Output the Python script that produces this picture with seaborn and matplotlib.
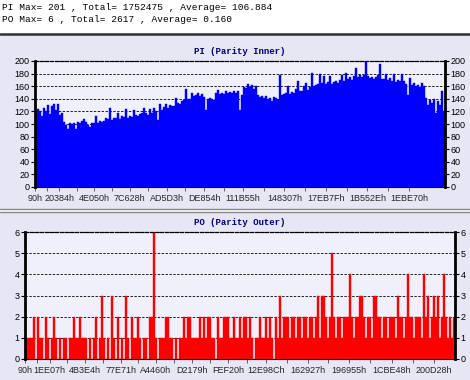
import numpy as np
import matplotlib
matplotlib.use('Agg')
from matplotlib import pyplot as plt
from matplotlib.patches import Rectangle
from matplotlib.lines import Line2D
import seaborn as sns

sns.set_style('white')
plt.rcParams['font.family'] = ['Liberation Sans', 'DejaVu Sans']

# PI per sample block
pi_vals = [118, 124, 121, 113, 126, 120, 130, 116, 128, 131,
           122, 131, 114, 117, 103, 99, 92, 101, 100, 102,
           92, 103, 101, 104, 108, 103, 99, 95, 101, 102,
           113, 101, 104, 103, 104, 110, 108, 126, 107, 109,
           110, 117, 108, 112, 111, 124, 110, 112, 111, 122,
           114, 113, 116, 118, 126, 118, 115, 124, 117, 125,
           120, 106, 131, 122, 127, 131, 126, 130, 129, 128,
           142, 133, 131, 136, 138, 155, 139, 140, 150, 144,
           146, 149, 145, 147, 143, 122, 139, 141, 140, 138,
           149, 154, 147, 150, 148, 152, 149, 151, 150, 153,
           149, 152, 122, 146, 158, 157, 164, 158, 162, 156,
           160, 146, 143, 145, 141, 144, 139, 142, 136, 143,
           141, 138, 178, 146, 147, 150, 160, 148, 151, 149,
           155, 168, 153, 152, 160, 165, 154, 158, 181, 160,
           162, 163, 180, 165, 176, 163, 166, 176, 164, 167,
           168, 165, 170, 178, 169, 181, 171, 174, 170, 176,
           189, 175, 178, 174, 177, 201, 176, 173, 175, 172,
           174, 178, 195, 171, 172, 180, 170, 173, 168, 180,
           167, 170, 169, 180, 168, 164, 146, 173, 162, 165,
           160, 162, 158, 165, 160, 141, 130, 138, 133, 140,
           117, 136, 130, 152, 120]

# PO per sample block
po_vals = [1, 1, 1, 1, 2, 0, 2, 1, 1, 0, 2, 1, 0, 1, 2, 1, 0, 1, 0, 1,
           1, 0, 1, 1, 2, 1, 1, 2, 1, 1, 1, 0, 1, 0, 1, 2, 0, 1, 3, 1,
           0, 1, 0, 3, 1, 0, 2, 0, 1, 0, 3, 1, 0, 2, 1, 1, 2, 1, 0, 1,
           1, 0, 2, 2, 6, 1, 0, 1, 1, 1, 2, 2, 1, 1, 0, 1, 0, 1, 1, 2,
           1, 2, 2, 1, 1, 1, 1, 2, 1, 2, 1, 2, 2, 1, 1, 0, 2, 1, 1, 2,
           2, 2, 1, 1, 2, 1, 1, 2, 1, 2, 2, 1, 2, 1, 0, 1, 1, 2, 1, 1,
           2, 1, 2, 1, 0, 2, 1, 3, 1, 2, 2, 2, 1, 2, 2, 1, 2, 2, 1, 2,
           2, 1, 2, 2, 1, 2, 3, 1, 3, 3, 2, 1, 2, 5, 2, 1, 2, 2, 1, 2,
           2, 2, 4, 2, 1, 2, 2, 3, 3, 2, 1, 2, 2, 1, 3, 3, 2, 2, 1, 2,
           2, 1, 2, 2, 2, 1, 3, 2, 2, 1, 2, 4, 2, 2, 1, 2, 2, 2, 1, 4,
           2, 3, 1, 2, 3, 2, 3, 1, 2, 4, 2, 1, 2, 1, 2]

pi_xticks = [0x90, 0x20384, 0x4E050, 0x7C628, 0xAD5D3, 0xDE854,
             0x111B55, 0x148307, 0x17EB7F, 0x1B552E, 0x1EBE70]
po_xticks = [0x90, 0x1EE07, 0x4B3E4, 0x77E71, 0xA4460, 0xD2179,
             0xFEF20, 0x12E98C, 0x162927, 0x196955, 0x1CBE48, 0x200D28]
pi_yticks = [0, 20, 40, 60, 80, 100, 120, 140, 160, 180, 200]
po_yticks = [0, 1, 2, 3, 4, 5, 6]

lba_start = 0x90
lba_end = 0x21B4A0

header = ['PI Max= 201 , Total= 1752475 , Average= 106.884',
          'PO Max= 6 , Total= 2617 , Average= 0.160']

panel_bg = '#E6E6F4'
axes_bg = '#F0F0FC'
navy = '#000080'
dash = (0, (2.5, 1.5))

fig = plt.figure(figsize=(4.7, 3.8), dpi=100)
fig.patch.set_facecolor('white')

H = 380.0
W = 470.0
# background panels and separator lines
fig.add_artist(Rectangle((0, 1 - 209 / H), 1, 175 / H, transform=fig.transFigure,
                         facecolor=panel_bg, edgecolor='none', zorder=-10))
fig.add_artist(Rectangle((0, 0), 1, 1 - 212 / H, transform=fig.transFigure,
                         facecolor=panel_bg, edgecolor='none', zorder=-10))
fig.add_artist(Line2D([0, 1], [1 - 34 / H] * 2, transform=fig.transFigure,
                      color='#303030', lw=1.8))
fig.add_artist(Line2D([0, 1], [1 - 209 / H] * 2, transform=fig.transFigure,
                      color='#8A8A8A', lw=1.0))
fig.add_artist(Line2D([0, 1], [1 - 212 / H] * 2, transform=fig.transFigure,
                      color='#8A8A8A', lw=1.0))

for i, line in enumerate(header):
    fig.text(2 / W, 1 - (7 + 13 * i) / H, line, family=['Liberation Mono', 'DejaVu Sans Mono'],
             fontsize=6.8, va='center', ha='left', color='black')


def draw(ax, vals, color, xticks, yticks, title, title_y):
    n = len(vals)
    step = (lba_end - lba_start) / n
    lba = lba_start + step * (np.arange(n) + 0.5)
    sns.barplot(x=lba, y=vals, native_scale=True, width=1, orient='x', color=color,
                saturation=1, errorbar=None, linewidth=0.3, edgecolor=color, ax=ax)
    ax.set_facecolor(axes_bg)
    ax.set_xlim(lba_start, lba_end)
    ax.set_ylim(0, yticks[-1])
    ax.set_xlabel('')
    ax.set_ylabel('')
    ax.set_yticks(yticks)
    ax.set_yticklabels([str(v) for v in yticks])
    ax.set_xticks(xticks)
    ax.set_xticklabels([f'{v:X}h' for v in xticks])
    ax.set_xticks([(a + b) / 2 for a, b in zip(xticks[:-1], xticks[1:])], minor=True)
    ax.yaxis.grid(True, linestyle=dash, color='#202020', lw=0.7)
    ax.set_axisbelow(True)
    ax.tick_params(axis='y', which='both', left=True, right=True, labelleft=True,
                   labelright=True, length=3, width=0.8, pad=1, labelsize=6.5, colors='black')
    ax.tick_params(axis='x', which='both', bottom=True, length=3, width=0.7, pad=2,
                   labelsize=6.5, color='#606060')
    for side in ['left', 'right']:
        ax.spines[side].set_linewidth(2)
        ax.spines[side].set_color('black')
    ax.spines['bottom'].set_linewidth(0.8)
    ax.spines['bottom'].set_color('black')
    ax.spines['top'].set_linestyle(dash)
    ax.spines['top'].set_linewidth(0.9)
    ax.spines['top'].set_color('black')
    bb = ax.get_position()
    fig.text(bb.x0 + bb.width / 2, 1 - title_y / H, title, ha='center', va='center',
             family=['Liberation Mono', 'DejaVu Sans Mono'], fontweight='bold',
             fontsize=6.5, color=navy)


ax1 = fig.add_axes([35 / W, 1 - 187 / H, 410 / W, 126 / H])
draw(ax1, pi_vals, '#0000FF', pi_xticks, pi_yticks, 'PI (Parity Inner)', 51)

ax2 = fig.add_axes([25 / W, 1 - 359 / H, 430 / W, 127 / H])
draw(ax2, po_vals, '#FF0000', po_xticks, po_yticks, 'PO (Parity Outer)', 222.5)

fig.savefig('out.png', dpi=100)
